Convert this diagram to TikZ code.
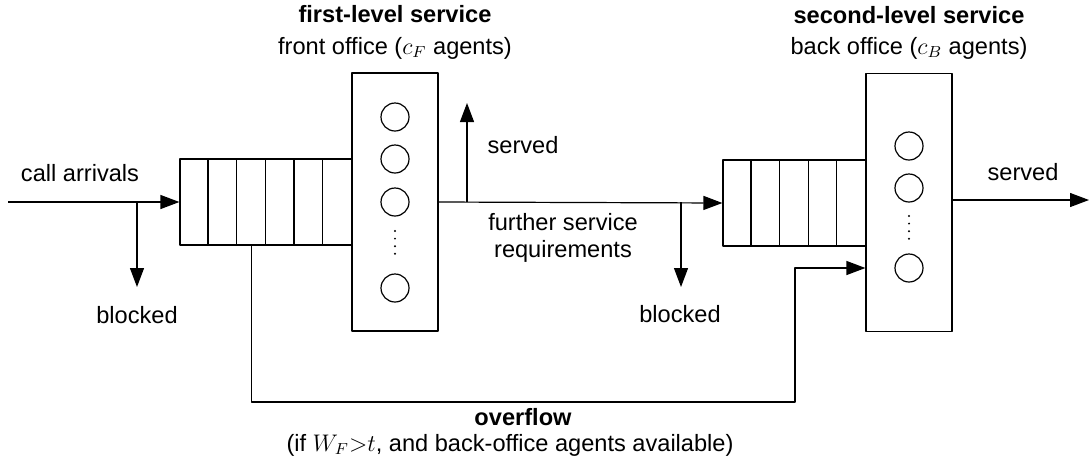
\documentclass[tikz,border=0pt]{standalone}
\usepackage{fontspec}
\setmainfont{Liberation Sans}
\usetikzlibrary{positioning,arrows.meta}
\begin{document}
\begin{tikzpicture}[x=0.5pt, y=-0.5pt, font=\fontsize{11.8}{15}\selectfont, line join=round, line width=0.6pt, >={Triangle[length=9.5pt,width=7pt]}]
\tikzset{queue/.style={draw, minimum height=43pt, inner sep=0pt},
  server/.style={draw, minimum width=43pt, minimum height=129pt, inner sep=0pt},
  agent/.style={draw, circle, minimum size=14pt, inner sep=0pt},
  lbl/.style={anchor=base},
  title/.style={anchor=base, font=\fontsize{11.8}{15}\selectfont\bfseries},
  dots/.style={line width=1.1pt, line cap=round, dash pattern=on 0pt off 3.8pt}}
\useasboundingbox (0,0) rectangle (1090,467);
% front office
\node[queue, minimum width=86pt] (q1) at (266,202) {};
\foreach \i in {1,...,5} \draw (q1.north west) ++(\i*28.67,0) -- ++(0,86);
\node[server] (s1) at (395,202) {};
\node[agent] (a1) at (395,117) {};
\node[agent] (a2) at (395,159) {};
\node[agent] (a3) at (395,202) {};
\node[agent] (a4) at (395,288) {};
\draw[dots] (395,231) -- (395,254);
% back office
\node[queue, minimum width=71.5pt] (q2) at (794.5,203) {};
\foreach \i in {1,...,4} \draw (q2.north west) ++(\i*28.6,0) -- ++(0,86);
\node[server] (s2) at (909,202.5) {};
\node[agent] (b1) at (909,146) {};
\node[agent] (b2) at (909,188) {};
\node[agent] (b3) at (909,268) {};
\draw[dots] (909,216) -- (909,239);
% titles
\node[title] (t1) at (395,22) {first-level service};
\node[lbl] (t1b) at (395,54) {front office ($c_F$ agents)};
\node[title] (t2) at (909,23) {second-level service};
\node[lbl] (t2b) at (909,54) {back office ($c_B$ agents)};
% flows
\coordinate (in) at (8,202);
\coordinate (out) at (1089,200);
\coordinate (bl1) at (137,287);
\coordinate (bl2) at (681,287);
\coordinate (sv1) at (467,103);
\draw[->] (in) -- (q1.west);
\draw[->] (bl1 |- in) -- (bl1);
\draw[->] (s1.east |- q1.east) -- (q2.west);
\draw[->] (sv1 |- q1.east) -- (sv1);
\draw[->] (bl2 |- q1.east) -- (bl2);
\draw[->] (s2.east |- out) -- (out);
\draw[->] (q1.south west) ++(72,0) |- (795,402) |- (s2.west |- b3);
% labels
\node[lbl] (arr) at (80,181) {call arrivals};
\node[lbl] (blk1) at (137,323) {blocked};
\node[lbl] (srv1) at (523,153) {served};
\node[lbl] (fur) at (563,230) {further service};
\node[lbl] (req) at (563,257) {requirements};
\node[lbl] (blk2) at (680,322) {blocked};
\node[lbl] (srv2) at (1023,180) {served};
\node[title] (ovf) at (523,425) {overflow};
\node[lbl] (cond) at (510,451) {(if $W_F{>}t$, and back-office agents available)};
\end{tikzpicture}
\end{document}
